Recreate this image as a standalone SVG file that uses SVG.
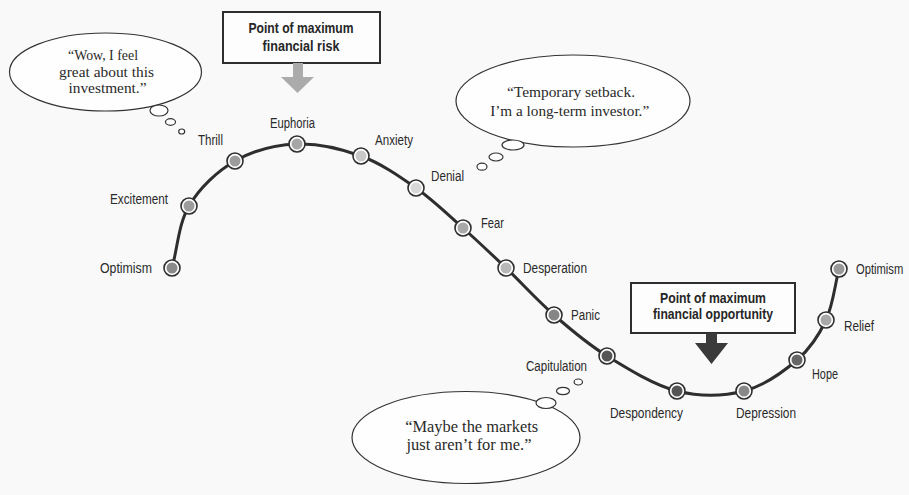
<svg xmlns="http://www.w3.org/2000/svg" width="909" height="495" viewBox="0 0 909 495">
<style>
.lbl{font-family:"Liberation Sans",Arial,sans-serif;font-size:14px;fill:#2a2a2a}
.box{fill:#fdfdfd;stroke:#2e2e2e;stroke-width:2}
.boxt{font-family:"Liberation Sans",Arial,sans-serif;font-size:15px;font-weight:bold;fill:#262626;text-anchor:middle}
.bub{fill:#fefefe;stroke:#333;stroke-width:1.2}
.qt{font-family:"Liberation Serif","Times New Roman",serif;font-size:15px;fill:#2a2a2a;text-anchor:middle}
.ring{fill:#fff;stroke:#2e2e2e;stroke-width:1.6}
.curve{fill:none;stroke:#2e2e2e;stroke-width:3;stroke-linecap:round}
</style>
<rect width="909" height="495" fill="#f9f9f9"/>

<g id="connectors">
<path class="curve" d="M172,268 C177.7,247.3 178.5,223.8 189,206 C199.5,188.2 217,171.3 235,161 C253,150.7 276,144.8 297,144 C318,143.2 341.2,148.7 361,156 C380.8,163.3 399,176 416,188 C433,200 448,214.7 463,228 C478,241.3 490.8,253.5 506,268 C521.2,282.5 537.2,300.3 554,315 C570.8,329.7 586.5,343.3 607,356 C627.5,368.7 654.2,385.2 677,391 C699.8,396.8 724,396.2 744,391 C764,385.8 783.3,371.8 797,360 C810.7,348.2 819,335.2 826,320 C833,304.8 834.7,286 839,269"/>
</g>

<g id="risk-box">
<rect class="box" x="223" y="12" width="157" height="51"/>
<text class="boxt" x="301" y="33" textLength="105" lengthAdjust="spacingAndGlyphs">Point of maximum</text>
<text class="boxt" x="301" y="50.5" textLength="77" lengthAdjust="spacingAndGlyphs">financial risk</text>
<polygon points="293,63 303,63 303,77 314,77 297.5,93 281,77 293,77" fill="#ababab"/>
</g>

<g id="opportunity-box">
<rect class="box" x="631" y="283" width="164" height="50"/>
<text class="boxt" x="713" y="302.5" textLength="106" lengthAdjust="spacingAndGlyphs">Point of maximum</text>
<text class="boxt" x="713" y="318.5" textLength="120" lengthAdjust="spacingAndGlyphs">financial opportunity</text>
<polygon points="706,333 717,333 717,343 728,343 711.5,364 695,343 706,343" fill="#3a3a3a"/>
</g>

<g id="bubble-wow">
<ellipse class="bub" cx="105.5" cy="72" rx="96" ry="39"/>
<ellipse class="bub" cx="159" cy="110.5" rx="9" ry="5.5"/>
<ellipse class="bub" cx="170.5" cy="122" rx="5" ry="3.3"/>
<ellipse class="bub" cx="181.7" cy="131.5" rx="3" ry="2.5"/>
<text class="qt" x="103" y="60" textLength="70" lengthAdjust="spacingAndGlyphs">“Wow, I feel</text>
<text class="qt" x="106.5" y="76.7" textLength="95" lengthAdjust="spacingAndGlyphs">great about this</text>
<text class="qt" x="107.5" y="93.3" textLength="78" lengthAdjust="spacingAndGlyphs">investment.”</text>
</g>

<g id="bubble-temporary">
<ellipse class="bub" cx="573" cy="101" rx="117" ry="46"/>
<ellipse class="bub" cx="513" cy="145" rx="11" ry="5"/>
<ellipse class="bub" cx="496" cy="157" rx="7" ry="4"/>
<ellipse class="bub" cx="482" cy="166.7" rx="5" ry="3.5"/>
<text class="qt" x="571" y="97.3" textLength="128" lengthAdjust="spacingAndGlyphs">“Temporary setback.</text>
<text class="qt" x="569.7" y="115.7" textLength="159" lengthAdjust="spacingAndGlyphs">I’m a long-term investor.”</text>
</g>

<g id="bubble-maybe">
<ellipse class="bub" cx="466" cy="437.5" rx="114" ry="46"/>
<ellipse class="bub" cx="546" cy="403" rx="10" ry="5.5"/>
<ellipse class="bub" cx="563" cy="391" rx="6.5" ry="3.7"/>
<ellipse class="bub" cx="578.3" cy="382" rx="4.2" ry="3"/>
<text class="qt" x="471.7" y="431.7" style="font-size:16px" textLength="133" lengthAdjust="spacingAndGlyphs">“Maybe the markets</text>
<text class="qt" x="469" y="450" style="font-size:16px" textLength="125" lengthAdjust="spacingAndGlyphs">just aren’t for me.”</text>
</g>

<g id="node-optimism-start"><circle class="ring" cx="172" cy="268" r="8"/><circle cx="172" cy="268" r="5.5" fill="#8a8a8a"/><text class="lbl" x="100" y="273" textLength="52" lengthAdjust="spacingAndGlyphs">Optimism</text></g>
<g id="node-excitement"><circle class="ring" cx="189" cy="206" r="8"/><circle cx="189" cy="206" r="5.5" fill="#9c9c9c"/><text class="lbl" x="110" y="204" textLength="58" lengthAdjust="spacingAndGlyphs">Excitement</text></g>
<g id="node-thrill"><circle class="ring" cx="235" cy="161" r="8"/><circle cx="235" cy="161" r="5.5" fill="#9c9c9c"/><text class="lbl" x="198" y="145" textLength="25" lengthAdjust="spacingAndGlyphs">Thrill</text></g>
<g id="node-euphoria"><circle class="ring" cx="297" cy="144" r="8"/><circle cx="297" cy="144" r="5.5" fill="#a6a6a6"/><text class="lbl" x="270" y="128" textLength="45" lengthAdjust="spacingAndGlyphs">Euphoria</text></g>
<g id="node-anxiety"><circle class="ring" cx="361" cy="156" r="8"/><circle cx="361" cy="156" r="5.5" fill="#c8c8c8"/><text class="lbl" x="375" y="145" textLength="38" lengthAdjust="spacingAndGlyphs">Anxiety</text></g>
<g id="node-denial"><circle class="ring" cx="416" cy="188" r="8"/><circle cx="416" cy="188" r="5.5" fill="#d8d8d8"/><text class="lbl" x="431" y="181" textLength="33" lengthAdjust="spacingAndGlyphs">Denial</text></g>
<g id="node-fear"><circle class="ring" cx="463" cy="228" r="8"/><circle cx="463" cy="228" r="5.5" fill="#a8a8a8"/><text class="lbl" x="481" y="228" textLength="23" lengthAdjust="spacingAndGlyphs">Fear</text></g>
<g id="node-desperation"><circle class="ring" cx="506" cy="268" r="8"/><circle cx="506" cy="268" r="5.5" fill="#b8b8b8"/><text class="lbl" x="523" y="273" textLength="64" lengthAdjust="spacingAndGlyphs">Desperation</text></g>
<g id="node-panic"><circle class="ring" cx="554" cy="315" r="8"/><circle cx="554" cy="315" r="5.5" fill="#858585"/><text class="lbl" x="571" y="319.5" textLength="29" lengthAdjust="spacingAndGlyphs">Panic</text></g>
<g id="node-capitulation"><circle class="ring" cx="607" cy="356" r="8"/><circle cx="607" cy="356" r="5.5" fill="#555"/><text class="lbl" x="526" y="371" textLength="61" lengthAdjust="spacingAndGlyphs">Capitulation</text></g>
<g id="node-despondency"><circle class="ring" cx="677" cy="391" r="8"/><circle cx="677" cy="391" r="5.5" fill="#555"/><text class="lbl" x="610" y="417.5" textLength="73" lengthAdjust="spacingAndGlyphs">Despondency</text></g>
<g id="node-depression"><circle class="ring" cx="744" cy="391" r="8"/><circle cx="744" cy="391" r="5.5" fill="#888"/><text class="lbl" x="736" y="417.5" textLength="60" lengthAdjust="spacingAndGlyphs">Depression</text></g>
<g id="node-hope"><circle class="ring" cx="797" cy="360" r="8"/><circle cx="797" cy="360" r="5.5" fill="#666"/><text class="lbl" x="812" y="378.5" textLength="26" lengthAdjust="spacingAndGlyphs">Hope</text></g>
<g id="node-relief"><circle class="ring" cx="826" cy="320" r="8"/><circle cx="826" cy="320" r="5.5" fill="#a8a8a8"/><text class="lbl" x="844" y="330.5" textLength="30" lengthAdjust="spacingAndGlyphs">Relief</text></g>
<g id="node-optimism-end"><circle class="ring" cx="839" cy="269" r="8"/><circle cx="839" cy="269" r="5.5" fill="#999"/><text class="lbl" transform="translate(856,273.5) scale(0.8,1)" x="0" y="0">Optimism</text></g>
</svg>
